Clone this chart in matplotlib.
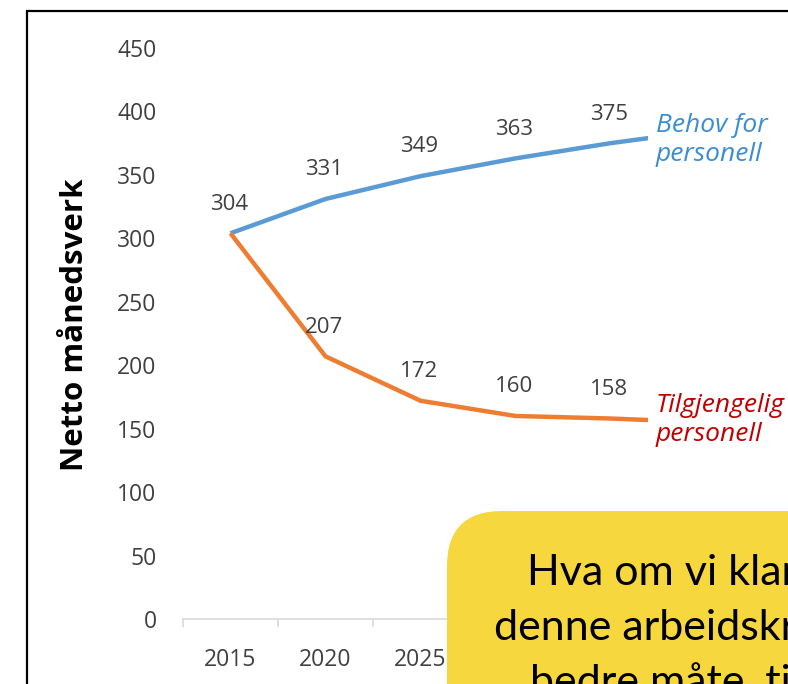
import matplotlib.pyplot as plt
from matplotlib.patches import Rectangle, FancyBboxPatch

years = ['2015', '2020', '2025', '2030', '2035', '2040']
behov = [304, 331, 349, 363, 375, 385]
tilgjengelig = [304, 207, 172, 160, 158, 155]
behov_labels = ['304', '331', '349', '363', '375', '']
tilg_labels = ['', '207', '172', '160', '158', '']
yticks = [0, 50, 100, 150, 200, 250, 300, 350, 400, 450]

W, H = 788, 684
plt.rcParams['font.family'] = ['Open Sans', 'DejaVu Sans']

fig = plt.figure(figsize=(W / 100, H / 100), dpi=100)


def px(x, y):
    # pixel (from top-left) -> figure fraction
    return x / W, 1 - y / H


ax = fig.add_axes([183 / W, 1 - 619 / H, 570 / W, 571 / H])
x = list(range(len(years)))
ax.plot(x, behov, color='#5B9BD5', lw=3.2, solid_capstyle='butt', zorder=3)
ax.plot(x, tilgjengelig, color='#ED7D31', lw=3.2, solid_capstyle='butt', zorder=3)

for i, lab in enumerate(behov_labels):
    if lab:
        ax.annotate(lab, (i, behov[i]), xytext=(-1, 21), textcoords='offset points',
                    ha='center', va='center', fontsize=16, color='#404040')
for i, lab in enumerate(tilg_labels):
    if lab:
        ax.annotate(lab, (i, tilgjengelig[i]), xytext=(-1, 21), textcoords='offset points',
                    ha='center', va='center', fontsize=16, color='#404040')

ax.set_xlim(-0.5, len(years) - 0.5)
ax.set_ylim(0, 450)
ax.set_yticks(yticks)
ax.set_yticklabels([str(v) for v in yticks], fontsize=16.5, color='#404040')
ax.set_xticks(x)
ax.set_xticklabels(years, fontsize=16.5, color='#404040')
ax.set_xticks([i - 0.5 for i in range(len(years) + 1)], minor=True)
ax.tick_params(axis='x', which='major', length=0, pad=21)
ax.tick_params(axis='x', which='minor', length=6, color='#D9D9D9', width=1.2, direction='out')
ax.tick_params(axis='y', length=0, pad=19)
for s in ['top', 'right', 'left']:
    ax.spines[s].set_visible(False)
ax.spines['bottom'].set_color('#D9D9D9')
ax.spines['bottom'].set_linewidth(1.2)
ax.patch.set_alpha(0)

fig.text(*px(75, 325), 'Netto månedsverk', rotation=90, ha='center', va='center',
         fontsize=22.5, fontweight='bold', color='black')

# white area behind the series names (hides line ends)
fig.add_artist(Rectangle(px(648, 470), 160 / W, 380 / H, transform=fig.transFigure,
                         facecolor='white', edgecolor='none', zorder=1))
fig.text(*px(656, 140), 'Behov for\npersonell', ha='left', va='center', fontsize=19,
         style='italic', color='#3A8DD4', linespacing=1.2, zorder=2)
fig.text(*px(656, 420), 'Tilgjengelig\npersonell', ha='left', va='center', fontsize=19,
         style='italic', color='#C00000', linespacing=1.2, zorder=2)

# outer frame
fig.add_artist(Rectangle(px(27, 760), 900 / W, 749 / H, transform=fig.transFigure,
                         facecolor='none', edgecolor='black', lw=1.6, zorder=4))

# yellow callout
box = FancyBboxPatch(px(447, 760), 500 / W, 249 / H, boxstyle='round,pad=0,rounding_size=0.07',
                     transform=fig.transFigure, facecolor='#F6D73D', edgecolor='none',
                     zorder=5, mutation_aspect=W / H)
fig.add_artist(box)
fig.text(*px(527, 585), 'Hva om vi klarer å', ha='left', va='baseline', fontsize=31,
         color='black', family='Lato', zorder=6)
fig.text(*px(494, 640), 'denne arbeidskraften', ha='left', va='baseline', fontsize=31,
         color='black', family='Lato', zorder=6)
fig.text(*px(530, 695), 'bedre måte, til', ha='left', va='baseline', fontsize=31,
         color='black', family='Lato', zorder=6)

fig.savefig('out.png', dpi=100)
